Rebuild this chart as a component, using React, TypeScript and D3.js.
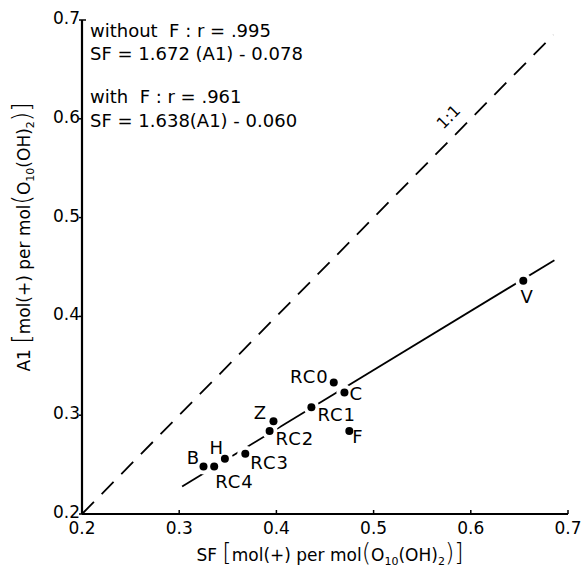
import React from 'react';
import * as d3 from 'd3';

const samples = ['B', 'RC4', 'H', 'RC3', 'RC2', 'Z', 'RC1', 'RC0', 'C', 'F', 'V'];
const sfValues = [0.325, 0.336, 0.347, 0.368, 0.393, 0.397, 0.436, 0.459, 0.470, 0.475, 0.654];
const a1Values = [0.248, 0.248, 0.256, 0.261, 0.284, 0.294, 0.308, 0.333, 0.323, 0.284, 0.436];
const tickValues = [0.2, 0.3, 0.4, 0.5, 0.6, 0.7];

// regression without F: SF = 1.672 (A1) - 0.078
const fitSlope = 1.672;
const fitIntercept = -0.078;
const fitRange = [0.303, 0.686];
const identityRange = [0.2, 0.685];

const statLines = [
    'without  F : r = .995',
    'SF = 1.672 (A1) - 0.078',
    'with  F : r = .961',
    'SF = 1.638(A1) - 0.060',
];

// label placement relative to the dot: dx, dy, anchor
const labelPos = {
    B: [-10, -3, 'middle'],
    RC4: [1, 21, 'start'],
    H: [-8, -5, 'middle'],
    RC3: [5, 15, 'start'],
    RC2: [6, 14, 'start'],
    Z: [-13, -2, 'middle'],
    RC1: [6, 14, 'start'],
    RC0: [-5, 0, 'end'],
    C: [5, 8, 'start'],
    F: [3, 12, 'start'],
    V: [4, 22, 'middle'],
};

const font = 'DejaVu Sans';

function UnitTitle({prefix, x, y, rotate = 0}) {
    const big = 24;
    const sub = 11;
    return (
        <text x={x} y={y} textAnchor="middle" fontFamily={font} fontSize={17}
            transform={rotate ? `rotate(${rotate}, ${x}, ${y})` : undefined}>
            <tspan>{prefix} </tspan>
            <tspan fontSize={big} fontWeight={200}>[</tspan>
            <tspan>mol(+)  per  mol</tspan>
            <tspan fontSize={big} fontWeight={200}>(</tspan>
            <tspan>O</tspan>
            <tspan fontSize={sub} dy={4}>10</tspan>
            <tspan dy={-4}>(OH)</tspan>
            <tspan fontSize={sub} dy={4}>2</tspan>
            <tspan fontSize={big} fontWeight={200} dy={-4}>)</tspan>
            <tspan fontSize={big} fontWeight={200}>]</tspan>
        </text>
    );
}

export default function App() {
    const width = 585;
    const height = 568;

    const x = d3.scaleLinear().domain([0.2, 0.7]).range([82, 568]);
    const y = d3.scaleLinear().domain([0.2, 0.7]).range([514, 20]);

    const line = d3.line().x((d) => x(d[0])).y((d) => y(d[1]));
    const fitPts = fitRange.map((sf) => [sf, (sf - fitIntercept) / fitSlope]);
    const idPts = identityRange.map((v) => [v, v]);

    const labelAt = [x(0.581), y(0.598)];

    return (
        <svg width={width} height={height} style={{position: 'absolute', left: 0, top: 0}} xmlns="http://www.w3.org/2000/svg">
            <rect width={width} height={height} fill="#fff" />

            {/* 1:1 line */}
            <path d={line(idPts)} fill="none" stroke="#000" strokeWidth={1.8} strokeDasharray="17 11" />
            <text x={labelAt[0]} y={labelAt[1]} transform={`rotate(-45, ${labelAt[0]}, ${labelAt[1]})`}
                textAnchor="middle" fontFamily={font} fontSize={16}>1:1</text>

            {/* regression line */}
            <path d={line(fitPts)} fill="none" stroke="#000" strokeWidth={1.8} />

            {/* axes */}
            <line x1={x(0.2)} x2={x(0.7)} y1={y(0.2)} y2={y(0.2)} stroke="#000" strokeWidth={2.2} />
            <line x1={x(0.2)} x2={x(0.2)} y1={y(0.2)} y2={y(0.7)} stroke="#000" strokeWidth={2.2} />
            {tickValues.map((v, i) => (
                <g key={`tx_${i}`}>
                    <line x1={x(v)} x2={x(v)} y1={y(0.2)} y2={y(0.2) - 4} stroke="#000" strokeWidth={1.5} />
                    <text x={x(v)} y={y(0.2) + 20} textAnchor="middle" fontFamily={font} fontSize={17}>{v.toFixed(1)}</text>
                </g>
            ))}
            {tickValues.map((v, i) => (
                <g key={`ty_${i}`}>
                    <line x1={x(0.2)} x2={x(0.2) - 3} y1={y(v)} y2={y(v)} stroke="#000" strokeWidth={1.5} />
                    <text x={x(0.2) - 2} y={y(v) + 4} textAnchor="end" fontFamily={font} fontSize={17}>{v.toFixed(1)}</text>
                </g>
            ))}
            <line x1={x(0.2)} x2={x(0.2) + 4} y1={y(0.7)} y2={y(0.7)} stroke="#000" strokeWidth={1.5} />

            {/* points */}
            {samples.map((s, i) => (
                <circle key={`h_${s}`} cx={x(sfValues[i])} cy={y(a1Values[i])} r={8} fill="#fff" />
            ))}
            {samples.map((s, i) => (
                <circle key={`p_${s}`} cx={x(sfValues[i])} cy={y(a1Values[i])} r={4} fill="#000" />
            ))}
            {samples.map((s, i) => {
                const [dx, dy, anchor] = labelPos[s];
                return (
                    <text key={`l_${s}`} x={x(sfValues[i]) + dx} y={y(a1Values[i]) + dy}
                        textAnchor={anchor} fontFamily={font} fontSize={18} letterSpacing={1}>{s}</text>
                );
            })}

            {/* stats */}
            {statLines.map((t, i) => (
                <text key={`s_${i}`} x={90} y={[37, 60, 103, 127][i]} fontFamily={font} fontSize={18}
                    style={{whiteSpace: 'pre'}}>{t}</text>
            ))}

            <UnitTitle prefix="SF" x={330} y={561} />
            <UnitTitle prefix="A1" x={30} y={237} rotate={-90} />
        </svg>
    );
}
